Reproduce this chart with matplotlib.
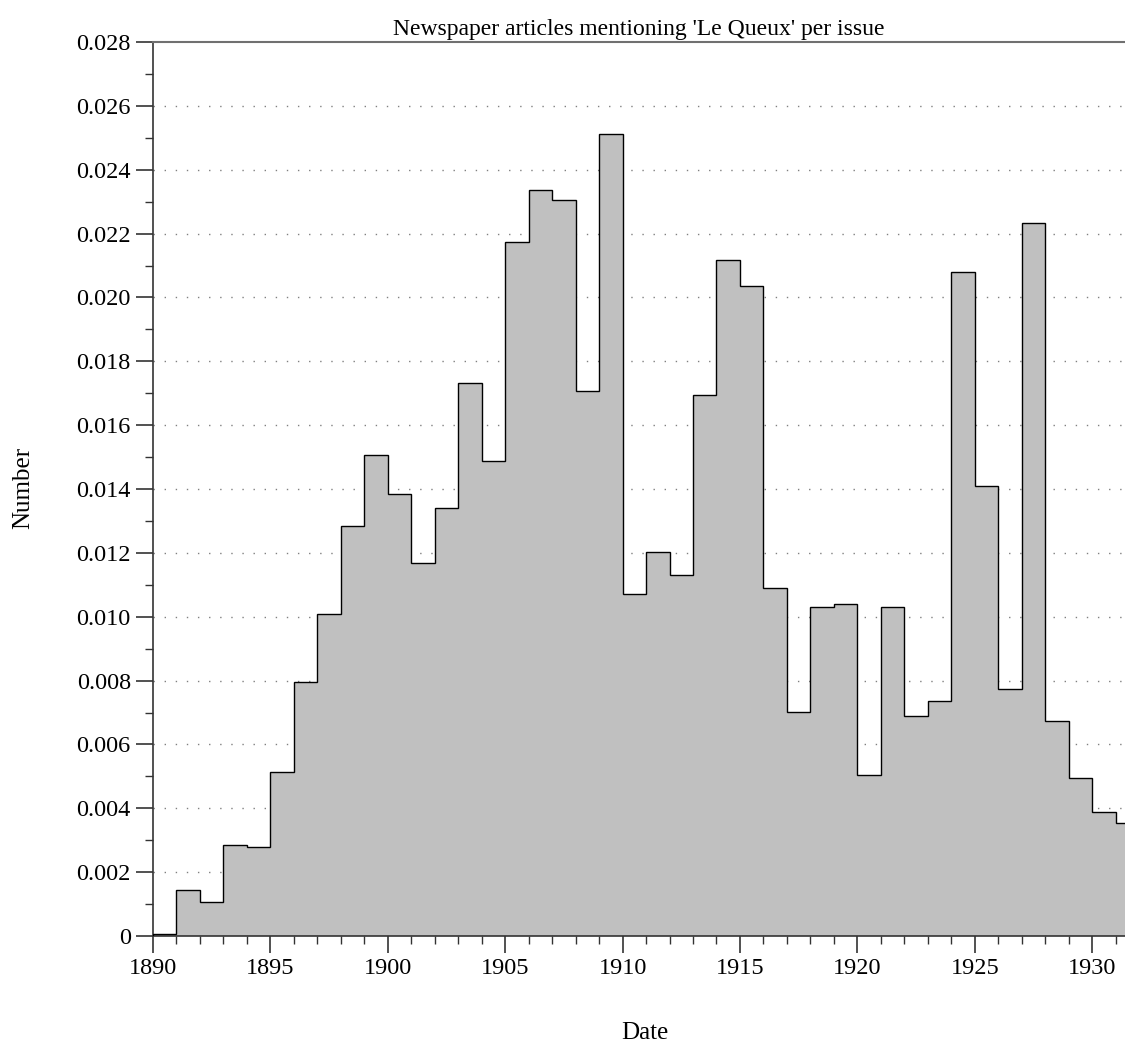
import matplotlib
matplotlib.use("Agg")
import matplotlib.pyplot as plt
import numpy as np
from matplotlib.ticker import MultipleLocator, FuncFormatter

years = list(range(1890, 1932))
values = [0.00005, 0.00145, 0.00106, 0.00284, 0.00278, 0.00514, 0.00796, 0.01007,
          0.01285, 0.01506, 0.01383, 0.01167, 0.01340, 0.01731, 0.01488, 0.02173,
          0.02337, 0.02304, 0.01707, 0.02512, 0.01071, 0.01203, 0.01132, 0.01693,
          0.02117, 0.02035, 0.01089, 0.00703, 0.01029, 0.01039, 0.00503, 0.01029,
          0.00688, 0.00737, 0.02081, 0.01409, 0.00775, 0.02232, 0.00674, 0.00496,
          0.00388, 0.00353]
title = "Newspaper articles mentioning 'Le Queux' per issue"
xlabel = "Date"
ylabel = "Number"

plt.rcParams['font.family'] = ['Liberation Serif', 'DejaVu Serif']

fig = plt.figure(figsize=(11.25, 10.42), dpi=100)
ax = fig.add_axes([153/1125, 1 - 936/1042, 1 - 153/1125, (936 - 42)/1042])

edges = years + [years[-1] + 1]
ax.stairs(values, edges, fill=True, color='#c0c0c0', zorder=2)
ax.stairs(values, edges, color='black', linewidth=1.0, zorder=3)

ax.set_xlim(1890, 1931.4)
ax.set_ylim(0, 0.028)

ax.yaxis.set_major_locator(MultipleLocator(0.002))
ax.yaxis.set_minor_locator(MultipleLocator(0.001))
ax.xaxis.set_major_locator(MultipleLocator(5))
ax.xaxis.set_minor_locator(MultipleLocator(1))
ax.yaxis.set_major_formatter(FuncFormatter(lambda v, p: '0' if abs(v) < 1e-12 else f'{v:.3f}'))
ax.xaxis.set_major_formatter(FuncFormatter(lambda v, p: f'{int(round(v))}'))

ax.tick_params(axis='both', which='major', direction='out', length=12, width=1.2,
               labelsize=17.5, color='#333333', pad=4)
ax.tick_params(axis='both', which='minor', direction='out', length=6, width=1.0, color='#333333')

for gy in np.arange(0.002, 0.0279, 0.002):
    ax.axhline(gy, color='#808080', linestyle=(0, (1, 7)), linewidth=1.0, zorder=1)

ax.spines['right'].set_visible(False)
ax.spines['top'].set_color('#707070')
ax.spines['top'].set_linewidth(1.5)
ax.spines['left'].set_color('#333333')
ax.spines['bottom'].set_color('#333333')
ax.spines['left'].set_linewidth(1.2)
ax.spines['bottom'].set_linewidth(1.2)

ax.set_title(title, fontsize=17, pad=5)
fig.text(645/1125, 1 - 1033/1042, xlabel, ha='center', va='center', fontsize=18)
fig.text(23/1125, 1 - 488/1042, ylabel, ha='center', va='center', rotation=90, fontsize=18)

fig.savefig('out.png', dpi=100)
